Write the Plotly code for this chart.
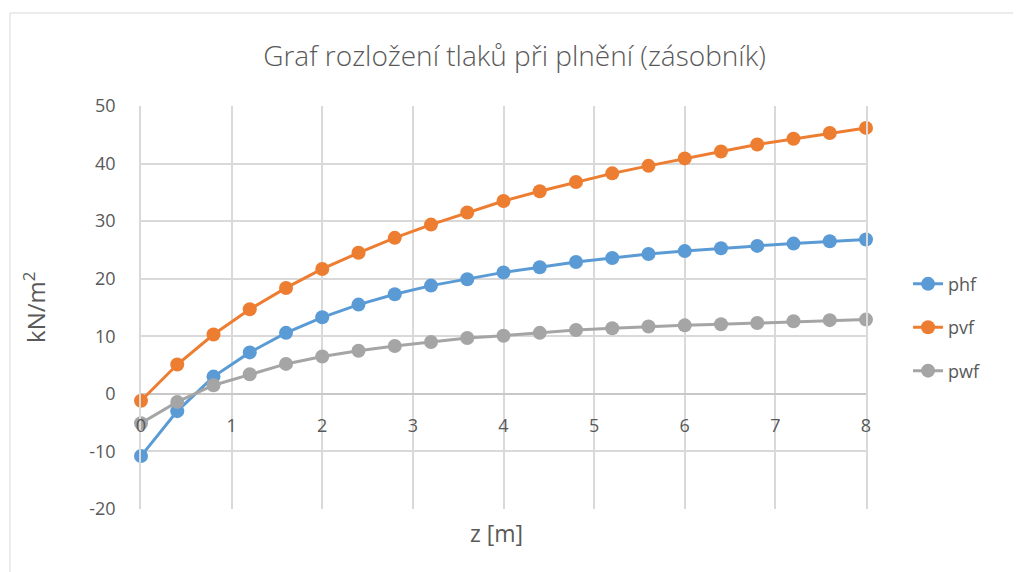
import plotly.graph_objects as go

z = [0.0, 0.4, 0.8, 1.2, 1.6, 2.0, 2.4, 2.8, 3.2, 3.6, 4.0,
     4.4, 4.8, 5.2, 5.6, 6.0, 6.4, 6.8, 7.2, 7.6, 8.0]
phf = [-10.8, -3.0, 3.0, 7.2, 10.6, 13.3, 15.5, 17.3, 18.8, 19.9, 21.1,
       22.0, 22.9, 23.6, 24.3, 24.8, 25.3, 25.7, 26.1, 26.5, 26.8]
pvf = [-1.2, 5.1, 10.3, 14.7, 18.4, 21.7, 24.5, 27.1, 29.4, 31.5, 33.5,
       35.2, 36.8, 38.3, 39.6, 40.9, 42.1, 43.3, 44.3, 45.3, 46.2]
pwf = [-5.1, -1.4, 1.5, 3.4, 5.2, 6.5, 7.5, 8.3, 9.0, 9.7, 10.1,
       10.6, 11.1, 11.4, 11.7, 11.9, 12.1, 12.3, 12.6, 12.8, 12.9]

series = [("phf", phf, "#5B9BD5"), ("pvf", pvf, "#ED7D31"), ("pwf", pwf, "#A5A5A5")]

title_text = "Graf rozložení tlaků při plnění (zásobník)"
x_title = "z [m]"
y_title = "kN/m<sup>2</sup>"
x_ticks = [0, 1, 2, 3, 4, 5, 6, 7, 8]
y_ticks = [-20, -10, 0, 10, 20, 30, 40, 50]
y_ticklabels = ["-20", "-10", "0", "10", "20", "30", "40", "50"]

FONT = "Open Sans"
TXT = "#595959"
GRID = "#D9D9D9"

fig = go.Figure()
for i, (name, vals, col) in enumerate(series):
    fig.add_trace(go.Scatter(
        x=z, y=vals, name=name, mode="lines+markers",
        line=dict(color=col, width=3),
        marker=dict(color=col, size=14),
        cliponaxis=False, legendgroup=name,
    ))

y_min, y_max = -20, 50
# page body has an 8px margin, so the figure is sized 8px smaller
fig.update_layout(
    width=1013, height=564,
    margin=dict(l=133, r=155, t=98, b=63),
    paper_bgcolor="white", plot_bgcolor="white",
    font=dict(family=FONT, color=TXT, size=18),
    title=dict(text=title_text, x=0.5, xanchor="center", y=0.915, yanchor="middle",
               font=dict(size=28, color=TXT, family=FONT, weight=300)),
    showlegend=True,
    legend=dict(x=1.058, xanchor="left", y=0.45, yanchor="middle",
                font=dict(size=18, color=TXT), tracegroupgap=17,
                bgcolor="rgba(0,0,0,0)"),
    xaxis=dict(range=[0, 8], tickvals=x_ticks, showgrid=True, gridcolor=GRID, gridwidth=1.5,
               zeroline=False, showline=False, anchor="free",
               position=(0 - y_min) / (y_max - y_min),
               ticks="outside", ticklen=16, tickcolor="rgba(0,0,0,0)",
               tickfont=dict(size=18, color=TXT)),
    yaxis=dict(range=[y_min, y_max], tickvals=y_ticks, ticktext=y_ticklabels,
               showgrid=True, gridcolor=GRID, gridwidth=1.5,
               zeroline=True, zerolinecolor="#C8C8C8", zerolinewidth=1.5,
               showline=True, mirror=True, linecolor=GRID, linewidth=1.5,
               ticks="outside", ticklen=20, tickcolor="rgba(0,0,0,0)",
               tickfont=dict(size=18, color=TXT)),
    annotations=[
        dict(text=x_title, xref="paper", yref="paper", x=0.49, y=-0.06,
             xanchor="center", yanchor="middle", showarrow=False,
             font=dict(size=23, color=TXT)),
        dict(text=y_title, xref="paper", yref="paper", x=-0.147, y=0.5,
             xanchor="center", yanchor="middle", showarrow=False, textangle=-90,
             font=dict(size=24, color=TXT)),
    ],
    shapes=[dict(type="rect", xref="paper", yref="paper",
                 x0=-0.1807, x1=1.3, y0=-0.3, y1=1.2308,
                 line=dict(color=GRID, width=1), layer="below")],
)

fig.write_html("out.html")
